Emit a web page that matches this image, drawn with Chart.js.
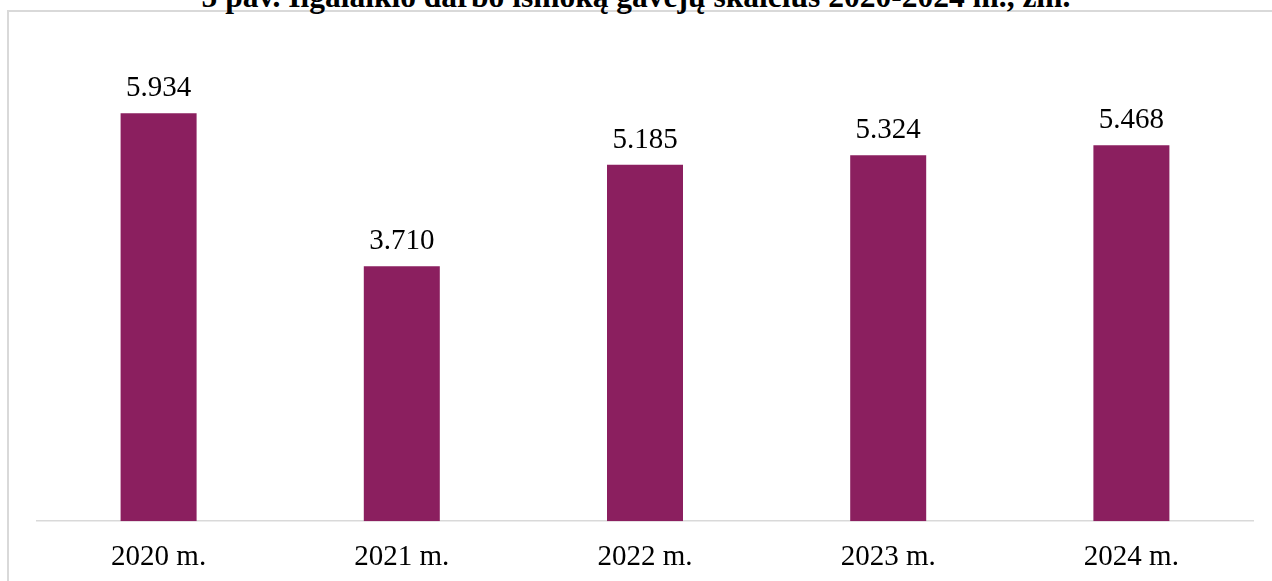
<!DOCTYPE html>
<html>
<head>
<meta charset="utf-8">
<script src="https://cdn.jsdelivr.net/npm/chart.js@4"></script>
<style>
  html, body { margin: 0; padding: 0; background: #fff; overflow: hidden; }
  #wrap { position: relative; width: 1272px; height: 581px; overflow: hidden; }
  #frame { position: absolute; left: 7px; top: 10px; width: 1400px; height: 700px;
           border-left: 2px solid #d9d9d9; border-top: 2px solid #d9d9d9; box-sizing: border-box; }
  #title { position: absolute; left: 0; top: -19px; width: 1272px; text-align: center;
           font: bold 31.5px 'Liberation Serif', 'Times New Roman', serif; line-height: 31.5px; color: #000; white-space: nowrap; }
  canvas { position: absolute; left: 0; top: 0; }
</style>
</head>
<body>
<div id="wrap">
  <div id="frame"></div>
  <div id="title">5 pav. Ilgalaikio darbo išmoką gavėjų skaičius 2020-2024 m., žm.</div>
  <canvas id="c" width="1272" height="581"></canvas>
</div>
<script>
const categories = ['2020 m.', '2021 m.', '2022 m.', '2023 m.', '2024 m.'];
const recipients = [5934, 3710, 5185, 5324, 5468];
const yMin = 0;
const yMax = 7000;

function fmt(v) {
  return String(v).replace(/\B(?=(\d{3})+(?!\d))/g, '.');
}

const valueLabels = {
  id: 'valueLabels',
  afterDatasetsDraw(chart) {
    const ctx = chart.ctx;
    const meta = chart.getDatasetMeta(0);
    ctx.save();
    ctx.font = "29px 'Liberation Serif', 'Times New Roman', serif";
    ctx.fillStyle = '#000';
    ctx.textAlign = 'center';
    ctx.textBaseline = 'alphabetic';
    meta.data.forEach((bar, i) => {
      ctx.fillText(fmt(chart.data.datasets[0].data[i]), bar.x, bar.y - 17);
    });
    ctx.restore();
  }
};

new Chart(document.getElementById('c'), {
  type: 'bar',
  data: {
    labels: categories,
    datasets: [{
      data: recipients,
      backgroundColor: '#8b1f5f',
      borderWidth: 0,
      barPercentage: 0.3125,
      categoryPercentage: 1.0
    }]
  },
  options: {
    responsive: false,
    animation: false,
    devicePixelRatio: 1,
    layout: { padding: { left: 37, right: 19, top: 40, bottom: -13 } },
    plugins: { legend: { display: false }, title: { display: false }, tooltip: { enabled: false } },
    scales: {
      x: {
        grid: { display: false, drawTicks: false },
        border: { display: true, color: '#d9d9d9', width: 1.5 },
        ticks: { color: '#000', padding: 19, font: { family: "'Liberation Serif', 'Times New Roman', serif", size: 29 } }
      },
      y: { display: false, min: yMin, max: yMax }
    }
  },
  plugins: [valueLabels]
});
</script>
</body>
</html>
